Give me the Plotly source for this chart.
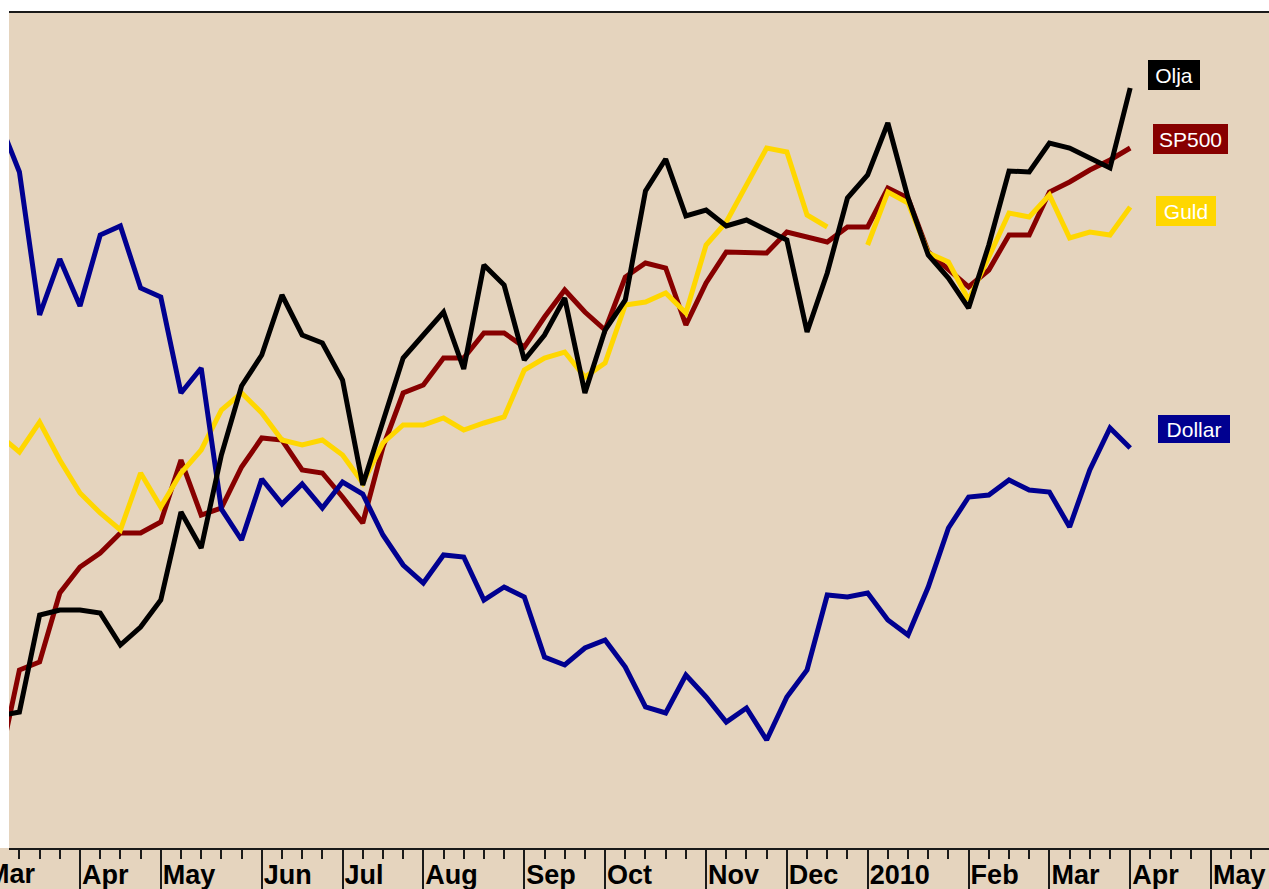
import plotly.graph_objects as go
import pandas as pd

# Weekly observations (week starting Sunday), Mar 2009 - Mar 2010
weeks = pd.date_range("2009-03-01", periods=57, freq="7D")

# Relative index levels (no visible y scale)
olja = [132, 136, 233, 238, 238, 235, 203, 221, 248, 336, 300, 393, 462, 493, 553, 513, 505, 468, 363, 427,
        490, 513, 536, 479, 583, 563, 488, 513, 550, 455, 518, 548, 657, 689, 632, 638, 622, 628, 618, 608,
        516, 575, 650, 673, 725, 650, 593, 570, 540, 603, 677, 676, 705, 700, 690, 680, 760]
sp500 = [83, 178, 186, 255, 281, 295, 315, 315, 326, 388, 333, 340, 381, 410, 408, 378, 375, 351, 325, 401,
         455, 463, 490, 490, 515, 515, 501, 531, 558, 536, 518, 571, 585, 580, 523, 565, 596, 595, 595, 616,
         611, 606, 621, 621, 660, 650, 596, 578, 561, 578, 613, 613, 656, 666, 678, 688, 700]
guld = [413, 396, 426, 388, 355, 335, 318, 375, 341, 375, 398, 438, 455, 435, 408, 403, 408, 393, 365, 405,
        423, 423, 430, 418, 425, 431, 478, 490, 496, 471, 485, 543, 546, 555, 535, 603, 626, 663, 700, 696,
        633, 621, None, 603, 656, 645, 595, 586, 548, 591, 635, 631, 653, 610, 616, 613, 641]
dollar = [727, 676, 533, 589, 542, 613, 622, 560, 551, 455, 480, 339, 308, 369, 344, 364, 340, 366, 354, 313,
          283, 265, 293, 291, 248, 261, 251, 191, 183, 200, 208, 181, 141, 135, 173, 151, 126, 140, 108, 151,
          178, 253, 251, 255, 228, 213, 261, 320, 351, 353, 368, 358, 356, 321, 378, 420, 400]

series_names = ["SP500", "Guld", "Dollar", "Olja"]
series_values = [sp500, guld, dollar, olja]
series_colors = ["#870000", "#FFD700", "#000090", "#000000"]

# Month tick positions (week containing the 1st of each month) and labels
month_ticks = ["2009-03-29", "2009-04-26", "2009-05-31", "2009-06-28", "2009-07-26", "2009-08-30",
               "2009-09-27", "2009-11-01", "2009-11-29", "2009-12-27", "2010-01-31", "2010-02-28",
               "2010-03-28", "2010-04-25"]
month_labels = ["Apr", "May", "Jun", "Jul", "Aug", "Sep", "Oct", "Nov", "Dec", "2010", "Feb", "Mar",
                "Apr", "May"]
first_label = "Mar"

BG = "#E5D4BE"
AXC = "#1a1a1a"
FONT = "Liberation Sans, Arial, sans-serif"

W, H = 1269, 889
ML, MR, MT, MB = 9, 0, 13, 41
PW, PH = W - ML - MR, H - MT - MB

fig = go.Figure()
for name, vals, col in zip(series_names, series_values, series_colors):
    fig.add_trace(go.Scatter(x=weeks, y=vals, mode="lines", name=name,
                             line=dict(color=col, width=5), connectgaps=False,
                             hoverinfo="x+y+name"))


def px_x(p):
    return (p - ML) / PW


def px_y(p):
    return (H - MB - p) / PH


label_boxes = [
    ("Olja", 1174, 75, 52, 30, "#000000"),
    ("SP500", 1190.5, 139, 75, 30, "#870000"),
    ("Guld", 1186, 211, 60, 30, "#FFD700"),
    ("Dollar", 1194, 429, 72, 28, "#000090"),
]
annotations = []
for text, cx, cy, w, h, bg in label_boxes:
    annotations.append(dict(text=text, xref="paper", yref="paper", x=px_x(cx), y=px_y(cy),
                            xanchor="center", yanchor="middle", showarrow=False,
                            width=w, height=h, bgcolor=bg, borderpad=0, borderwidth=0,
                            font=dict(family=FONT, size=21, color="white")))
annotations.append(dict(text=first_label, xref="paper", yref="paper", x=px_x(-14), y=px_y(858),
                        xanchor="left", yanchor="top", showarrow=False, borderpad=0,
                        font=dict(family=FONT, size=27, color="black", weight="bold")))

fig.update_layout(
    width=W, height=H,
    margin=dict(l=ML, r=MR, t=MT, b=MB, pad=0, autoexpand=False),
    paper_bgcolor="white",
    plot_bgcolor=BG,
    showlegend=False,
    annotations=annotations,
    shapes=[dict(type="rect", xref="paper", yref="paper", x0=px_x(-5), x1=1.01,
                 y0=px_y(H + 5), y1=0, fillcolor=BG, line=dict(width=0), layer="below")],
    xaxis=dict(
        type="date",
        automargin=False,
        range=["2009-03-04 09:23", "2010-05-15 02:40"],
        showgrid=False, zeroline=False,
        showline=True, linecolor=AXC, linewidth=2, mirror=True,
        ticks="outside", ticklen=41, tickwidth=2, tickcolor=AXC,
        tickmode="array", tickvals=month_ticks, ticktext=month_labels,
        ticklabelposition="outside right", ticklabelstandoff=2,
        tickfont=dict(family=FONT, size=27, color="black", weight="bold"),
        minor=dict(ticks="outside", ticklen=9, tickwidth=2, tickcolor=AXC,
                   tick0="2009-03-01", dtick=7 * 86400000),
    ),
    yaxis=dict(range=[0, PH], visible=False, showgrid=False, zeroline=False, fixedrange=True,
               automargin=False),
)

fig.write_html("out.html",
               config={"displayModeBar": False},
               post_script="document.body.style.margin='0';document.body.style.overflow='hidden';")
